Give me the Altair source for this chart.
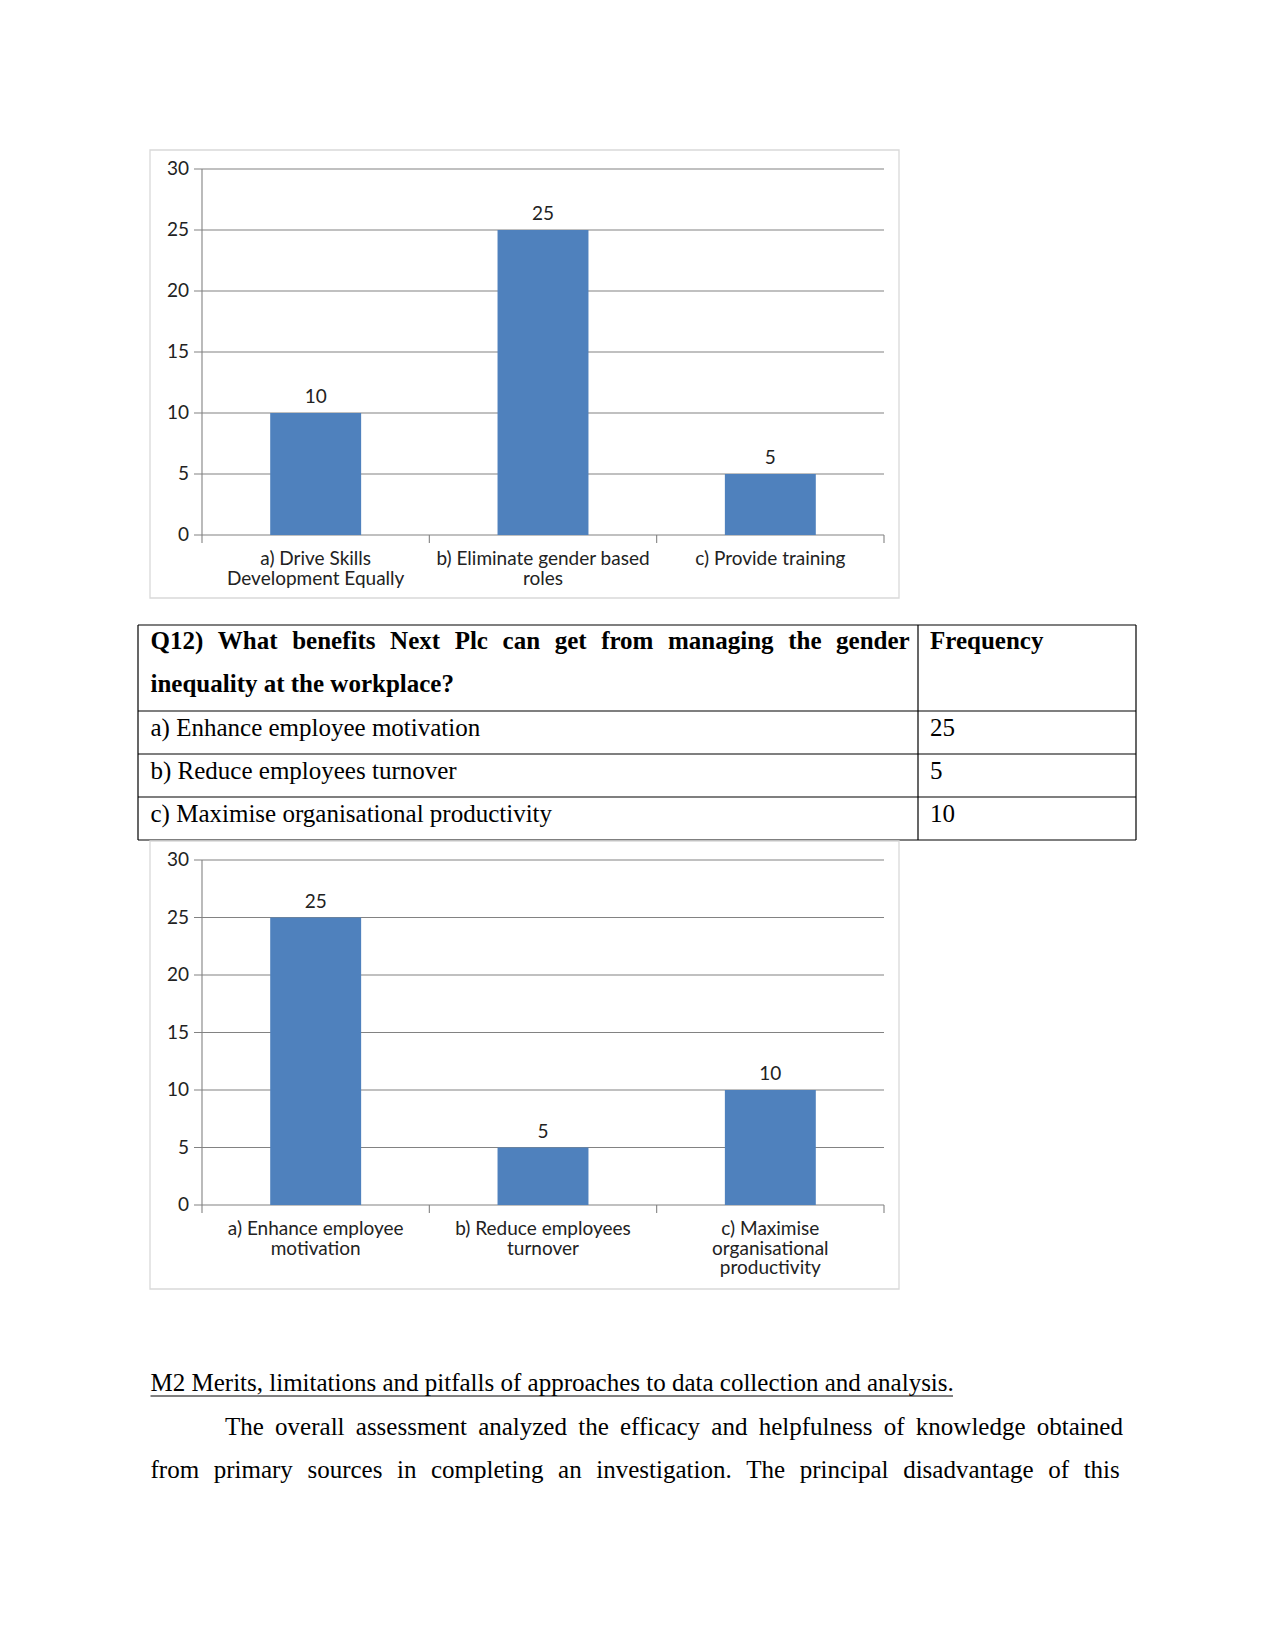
import altair as alt
import pandas as pd

# ---------------- data ----------------
q11_keys = ["a", "b", "c"]
q11_labels = ["a) Drive Skills\nDevelopment Equally", "b) Eliminate gender based\nroles", "c) Provide training"]
q11_values = [10, 25, 5]

q12_header_lines = ["Q12) What benefits Next Plc can get from managing the gender",
                    "inequality at the workplace?"]
q12_freq_header = "Frequency"
q12_options = ["a) Enhance employee motivation", "b) Reduce employees turnover",
               "c) Maximise organisational productivity"]
q12_values = [25, 5, 10]
q12_keys = ["a", "b", "c"]
q12_chart_labels = ["a) Enhance employee\nmotivation", "b) Reduce employees\nturnover",
                    "c) Maximise\norganisational\nproductivity"]

y_ticks = [0, 5, 10, 15, 20, 25, 30]

heading = "M2 Merits, limitations and pitfalls of approaches to data collection and analysis."
paragraph_lines = [
    "The overall assessment analyzed the efficacy and helpfulness of knowledge obtained",
    "from primary sources in completing an investigation. The principal disadvantage of this",
]

BAR_COLOR = "#4F81BD"
GRID_COLOR = "#828282"
CHART_FONT = "Lato"
CHART_FS = 19
DOC_FONT = "Liberation Serif"
DOC_FS = 25


def justify(line, extra):
    """Widen the inter-word gaps (justified text) by appending a narrow space."""
    return line.replace(" ", " " + extra)


def one():
    return pd.DataFrame({"o": [0]})


def bar_chart(keys, labels, values, frame, plot, label_top):
    fx0, fy0, fx1, fy1 = frame
    px0, py0, px1, py1 = plot  # py0 top, py1 bottom (zero line)
    yscale = alt.Scale(domain=[0, 30], range=[py1, py0])
    xscale = alt.Scale(domain=keys, range=[px0, px1], paddingInner=0.6, paddingOuter=0.3)
    df = pd.DataFrame({"key": keys, "label": labels, "value": values})
    grid = pd.DataFrame({"v": y_ticks})
    bounds = pd.DataFrame({"b": list(range(len(keys) + 1))})

    frame_l = alt.Chart(one()).mark_rect(fill="white", stroke="#d9d9d9", strokeWidth=1.3).encode(
        x=alt.value(fx0), x2=alt.value(fx1), y=alt.value(fy0), y2=alt.value(fy1))
    grid_l = alt.Chart(grid).mark_rule(color=GRID_COLOR, strokeWidth=1.1).encode(
        y=alt.Y("v:Q", scale=yscale, axis=None), x=alt.value(px0 - 8), x2=alt.value(px1))
    yaxis_l = alt.Chart(one()).mark_rule(color=GRID_COLOR, strokeWidth=1.1).encode(
        x=alt.value(px0), y=alt.value(py0), y2=alt.value(py1))
    xticks_l = alt.Chart(bounds).mark_rule(color=GRID_COLOR, strokeWidth=1.1).encode(
        x=alt.X("b:Q", scale=alt.Scale(domain=[0, len(keys)], range=[px0, px1]), axis=None),
        y=alt.value(py1), y2=alt.value(py1 + 8))
    ylab_l = alt.Chart(grid).mark_text(align="right", baseline="middle", font=CHART_FONT,
                                       fontSize=CHART_FS, color="#222").encode(
        y=alt.Y("v:Q", scale=yscale, axis=None), x=alt.value(px0 - 13), text="v:Q")
    bars_l = alt.Chart(df).mark_bar(color=BAR_COLOR).encode(
        x=alt.X("key:N", scale=xscale, axis=None),
        y=alt.Y("value:Q", scale=yscale, axis=None))
    vlab_l = alt.Chart(df).mark_text(baseline="alphabetic", dy=-10, font=CHART_FONT,
                                     fontSize=CHART_FS, color="#222").encode(
        x=alt.X("key:N", scale=xscale, axis=None),
        y=alt.Y("value:Q", scale=yscale, axis=None), text="value:Q")
    clab_l = alt.Chart(df).mark_text(baseline="top", lineBreak="\n", lineHeight=19.5,
                                     font=CHART_FONT, fontSize=CHART_FS, color="#222").encode(
        x=alt.X("key:N", scale=xscale, axis=None), y=alt.value(label_top), text="label:N")
    return [frame_l, grid_l, bars_l, yaxis_l, xticks_l, ylab_l, vlab_l, clab_l]


layers = []
layers += bar_chart(q11_keys, q11_labels, q11_values,
                    frame=(150, 150, 899, 598), plot=(202, 169, 884, 535), label_top=550)

# ---------------- table ----------------
T_LEFT, T_SEP, T_RIGHT, T_TOP, T_BOTTOM = 138, 918, 1136, 625, 840
tscale = alt.Scale(domain=[0, 5], range=[T_TOP, T_BOTTOM])
row_lines = pd.DataFrame({"r": [0, 2, 3, 4, 5]})
layers.append(alt.Chart(row_lines).mark_rule(color="black", strokeWidth=1.2).encode(
    y=alt.Y("r:Q", scale=tscale, axis=None), x=alt.value(T_LEFT), x2=alt.value(T_RIGHT)))
col_lines = pd.DataFrame({"c": [T_LEFT, T_SEP, T_RIGHT]})
layers.append(alt.Chart(col_lines).mark_rule(color="black", strokeWidth=1.2).encode(
    x=alt.X("c:Q", scale=alt.Scale(domain=[0, 1275], range=[0, 1275]), axis=None),
    y=alt.value(T_TOP), y2=alt.value(T_BOTTOM)))

hdr_text = [justify(q12_header_lines[0], "\u2004"), q12_header_lines[1]]
hdr = pd.DataFrame({"line": [0, 1], "text": hdr_text})
layers.append(alt.Chart(hdr).mark_text(align="left", baseline="middle", dy=16, font=DOC_FONT,
                                       fontSize=DOC_FS, fontWeight="bold", color="black").encode(
    y=alt.Y("line:Q", scale=tscale, axis=None), x=alt.value(150.5), text="text:N"))
fh = pd.DataFrame({"line": [0], "text": [q12_freq_header]})
layers.append(alt.Chart(fh).mark_text(align="left", baseline="middle", dy=16, font=DOC_FONT,
                                      fontSize=DOC_FS, fontWeight="bold", color="black").encode(
    y=alt.Y("line:Q", scale=tscale, axis=None), x=alt.value(930), text="text:N"))
opts = pd.DataFrame({"line": [2, 3, 4], "opt": q12_options, "val": q12_values})
layers.append(alt.Chart(opts).mark_text(align="left", baseline="middle", dy=16.5, font=DOC_FONT,
                                        fontSize=DOC_FS, color="black").encode(
    y=alt.Y("line:Q", scale=tscale, axis=None), x=alt.value(150.5), text="opt:N"))
layers.append(alt.Chart(opts).mark_text(align="left", baseline="middle", dy=16.5, font=DOC_FONT,
                                        fontSize=DOC_FS, color="black").encode(
    y=alt.Y("line:Q", scale=tscale, axis=None), x=alt.value(930), text="val:Q"))

layers += bar_chart(q12_keys, q12_chart_labels, q12_values,
                    frame=(150, 841, 899, 1289), plot=(202, 860, 884, 1205), label_top=1220)

# ---------------- text ----------------
layers.append(alt.Chart(pd.DataFrame({"t": [heading]})).mark_text(
    align="left", baseline="middle", font=DOC_FONT, fontSize=DOC_FS, color="black").encode(
    x=alt.value(150.5), y=alt.value(1383), text="t:N"))
layers.append(alt.Chart(one()).mark_rule(color="black", strokeWidth=1.2).encode(
    x=alt.value(150.5), x2=alt.value(953), y=alt.value(1396)))
para_text = [justify(paragraph_lines[0], "\u2009"), justify(paragraph_lines[1], "\u2004")]
para = pd.DataFrame({"line": [0, 1], "t": para_text, "indent": [225, 150.5]})
pscale = alt.Scale(domain=[0, 1], range=[1426.5, 1470])
layers.append(alt.Chart(para).mark_text(
    align="left", baseline="middle", font=DOC_FONT, fontSize=DOC_FS, color="black").encode(
    x=alt.X("indent:Q", scale=alt.Scale(domain=[0, 1275], range=[0, 1275]), axis=None),
    y=alt.Y("line:Q", scale=pscale, axis=None), text="t:N"))

chart = alt.layer(*layers).resolve_scale(x="independent", y="independent").properties(
    width=1275, height=1651, padding=0, autosize=alt.AutoSizeParams(type="none"),
    background="white"
).configure_view(stroke=None)

chart.save("out.html", embed_options={"renderer": "svg", "actions": False})
